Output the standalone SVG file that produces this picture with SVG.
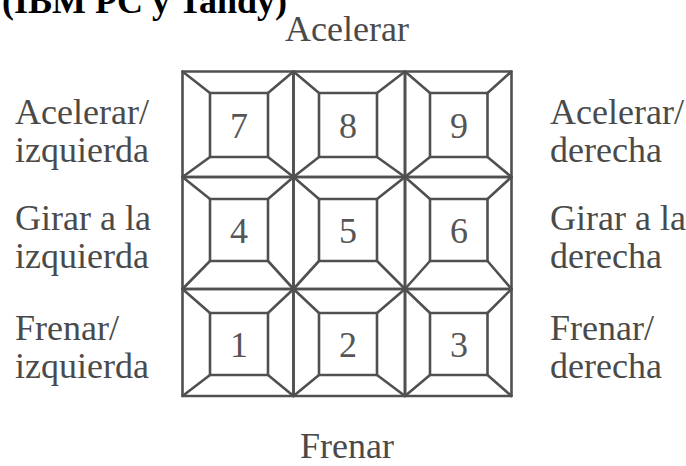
<svg xmlns="http://www.w3.org/2000/svg" width="686" height="466" viewBox="0 0 686 466">
<style>
.t{font-family:"Liberation Serif","Times New Roman",serif;font-size:36px;fill:#4a4a4a}
.title{font-family:"Liberation Serif","Times New Roman",serif;font-size:36px;font-weight:bold;fill:#000}
.k{fill:none;stroke:#505050;stroke-width:2.6;stroke-linejoin:round;stroke-linecap:round}
.d{font-family:"Liberation Serif","Times New Roman",serif;font-size:36px;fill:#555;text-anchor:middle}
</style>
<rect width="686" height="466" fill="#fff"/>
<text class="title" x="2" y="13">(IBM PC y Tandy)</text>
<text class="t" x="347" y="41" text-anchor="middle">Acelerar</text>
<text class="t" x="347" y="458" text-anchor="middle">Frenar</text>
<g id="labels-left">
<text class="t" x="15" y="124">Acelerar/</text>
<text class="t" x="15" y="162">izquierda</text>
<text class="t" x="15" y="230">Girar a la</text>
<text class="t" x="15" y="268">izquierda</text>
<text class="t" x="15" y="340">Frenar/</text>
<text class="t" x="15" y="378">izquierda</text>
</g>
<g id="labels-right">
<text class="t" x="550" y="124">Acelerar/</text>
<text class="t" x="550" y="162">derecha</text>
<text class="t" x="550" y="230">Girar a la</text>
<text class="t" x="550" y="268">derecha</text>
<text class="t" x="550" y="340">Frenar/</text>
<text class="t" x="550" y="378">derecha</text>
</g>
<g id="key7" class="k">
<rect x="182.5" y="71.5" width="111" height="105.5"/>
<rect x="210" y="93" width="58" height="64"/>
<path d="M182.5 71.5L210 93M293.5 71.5L268 93M182.5 177L210 157M293.5 177L268 157"/>
</g>
<g id="key8" class="k">
<rect x="293.5" y="71.5" width="111.5" height="105.5"/>
<rect x="319" y="93" width="58" height="64"/>
<path d="M293.5 71.5L319 93M405 71.5L377 93M293.5 177L319 157M405 177L377 157"/>
</g>
<g id="key9" class="k">
<rect x="405" y="71.5" width="106.5" height="105.5"/>
<rect x="430" y="93" width="57.5" height="64"/>
<path d="M405 71.5L430 93M511.5 71.5L487.5 93M405 177L430 157M511.5 177L487.5 157"/>
</g>
<g id="key4" class="k">
<rect x="182.5" y="177" width="111" height="112"/>
<rect x="210" y="199" width="58" height="62"/>
<path d="M182.5 177L210 199M293.5 177L268 199M182.5 289L210 261M293.5 289L268 261"/>
</g>
<g id="key5" class="k">
<rect x="293.5" y="177" width="111.5" height="112"/>
<rect x="319" y="199" width="58" height="62"/>
<path d="M293.5 177L319 199M405 177L377 199M293.5 289L319 261M405 289L377 261"/>
</g>
<g id="key6" class="k">
<rect x="405" y="177" width="106.5" height="112"/>
<rect x="430" y="199" width="57.5" height="62"/>
<path d="M405 177L430 199M511.5 177L487.5 199M405 289L430 261M511.5 289L487.5 261"/>
</g>
<g id="key1" class="k">
<rect x="182.5" y="289" width="111" height="107"/>
<rect x="210" y="313" width="58" height="62"/>
<path d="M182.5 289L210 313M293.5 289L268 313M182.5 396L210 375M293.5 396L268 375"/>
</g>
<g id="key2" class="k">
<rect x="293.5" y="289" width="111.5" height="107"/>
<rect x="319" y="313" width="58" height="62"/>
<path d="M293.5 289L319 313M405 289L377 313M293.5 396L319 375M405 396L377 375"/>
</g>
<g id="key3" class="k">
<rect x="405" y="289" width="106.5" height="107"/>
<rect x="430" y="313" width="57.5" height="62"/>
<path d="M405 289L430 313M511.5 289L487.5 313M405 396L430 375M511.5 396L487.5 375"/>
</g>
<g id="digits">
<text class="d" x="239" y="137.5">7</text>
<text class="d" x="348" y="137.5">8</text>
<text class="d" x="459" y="137.5">9</text>
<text class="d" x="239" y="242.5">4</text>
<text class="d" x="348" y="242.5">5</text>
<text class="d" x="459" y="242.5">6</text>
<text class="d" x="239" y="356.5">1</text>
<text class="d" x="348" y="356.5">2</text>
<text class="d" x="459" y="356.5">3</text>
</g>
</svg>
